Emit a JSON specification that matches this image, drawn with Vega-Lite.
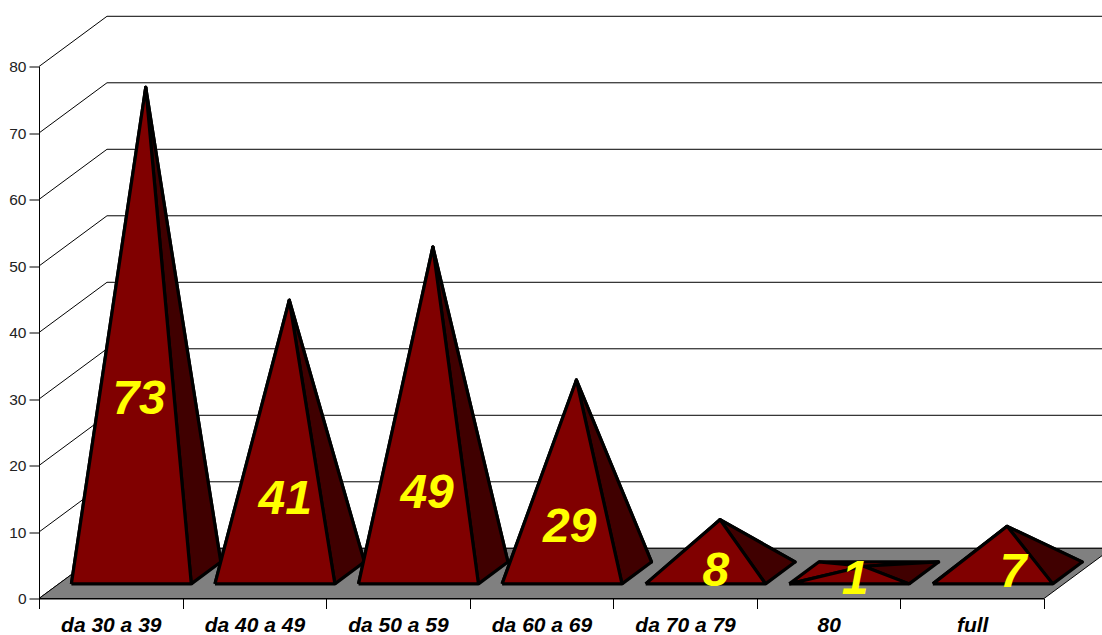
{
"$schema":"https://vega.github.io/schema/vega-lite/v6.json",
"width":1005,"height":532,
"autosize":{"type":"none"},
"padding":{"left":39,"top":66.5,"right":58,"bottom":36.5},
"background":"white",
"config":{"view":{"stroke":null},"font":"Liberation Sans"},
"datasets":{
"ages":[
{"category":"da 30 a 39","value":73},
{"category":"da 40 a 49","value":41},
{"category":"da 50 a 59","value":49},
{"category":"da 60 a 69","value":29},
{"category":"da 70 a 79","value":8},
{"category":"80","value":1},
{"category":"full","value":7}
],
"ticks":[{"tick":0},{"tick":10},{"tick":20},{"tick":30},{"tick":40},{"tick":50},{"tick":60},{"tick":70},{"tick":80}]
},
"layer":[
{"data":{"name":"ticks"},
 "transform":[{"calculate":"datum.tick+7.55","as":"back"}],
 "mark":{"type":"rule","stroke":"black","strokeWidth":1},
 "encoding":{
  "x":{"datum":0.4736,"type":"quantitative","scale":{"domain":[0,7],"nice":false,"zero":false},
   "axis":{"title":null,"grid":false,"values":[0,0.5,1,1.5,2,2.5,3,3.5,4,4.5,5,5.5,6,6.5,7],
    "labelExpr":"datum.value%1 ? ['da 30 a 39','da 40 a 49','da 50 a 59','da 60 a 69','da 70 a 79','80','full'][floor(datum.value)] : ''",
    "tickOpacity":{"condition":{"test":"datum.value%1","value":0},"value":1},
    "tickSize":10,"tickColor":"black","domainColor":"black","labelColor":"black","labelFont":"Liberation Sans","labelFontSize":21,"labelFontWeight":"bold","labelFontStyle":"italic","labelPadding":17,"labelOverlap":false,"labelFlush":false,"labelBaseline":"middle","labelAngle":0}},
  "x2":{"datum":7.4736},
  "y":{"field":"back","type":"quantitative","scale":{"domain":[0,80],"nice":false,"zero":false},
   "axis":{"title":null,"grid":false,"values":[0,10,20,30,40,50,60,70,80],"tickSize":10,"tickColor":"black","domainColor":"black","labelColor":"#222222","labelFont":"Liberation Sans","labelFontSize":15.5,"labelPadding":3}}
 }},
{"data":{"name":"ticks"},
 "transform":[{"calculate":"[{k:0,x:0,y:datum.tick},{k:1,x:0.4736,y:datum.tick+7.55}]","as":"seg"},{"flatten":["seg"]},{"calculate":"datum.seg.x","as":"sx"},{"calculate":"datum.seg.y","as":"sy"},{"calculate":"datum.seg.k","as":"sk"}],
 "mark":{"type":"line","stroke":"black","strokeWidth":1},
 "encoding":{"x":{"field":"sx","type":"quantitative"},"y":{"field":"sy","type":"quantitative"},"detail":{"field":"tick"},"order":{"field":"sk"}}
},
{"data":{"name":"ticks"},
 "transform":[{"filter":"datum.tick==0"},{"calculate":"[{k:0,x:0,y:0},{k:1,x:7,y:0},{k:2,x:7.4736,y:7.55},{k:3,x:0.4736,y:7.55},{k:4,x:0,y:0}]","as":"c"},{"flatten":["c"]},{"calculate":"datum.c.x","as":"cx"},{"calculate":"datum.c.y","as":"cy"},{"calculate":"datum.c.k","as":"ck"}],
 "mark":{"type":"line","stroke":"black","strokeWidth":1,"fill":"#808080"},
 "encoding":{"x":{"field":"cx","type":"quantitative"},"y":{"field":"cy","type":"quantitative"},"order":{"field":"ck"}}
},
{"data":{"name":"ages"},
 "transform":[
  {"window":[{"op":"row_number","as":"n"}]},
  {"calculate":"[{f:0,k:0,u:0.095,w:0.72,a:0},{f:0,k:1,u:0.93,w:0.72,a:0},{f:0,k:2,u:0.51,w:0.5,a:1},{f:0,k:3,u:0.095,w:0.72,a:0},{f:1,k:0,u:0.095,w:0.28,a:0},{f:1,k:1,u:0.095,w:0.72,a:0},{f:1,k:2,u:0.51,w:0.5,a:1},{f:1,k:3,u:0.095,w:0.28,a:0},{f:2,k:0,u:0.93,w:0.28,a:0},{f:2,k:1,u:0.93,w:0.72,a:0},{f:2,k:2,u:0.51,w:0.5,a:1},{f:2,k:3,u:0.93,w:0.28,a:0},{f:3,k:0,u:0.095,w:0.28,a:0},{f:3,k:1,u:0.93,w:0.28,a:0},{f:3,k:2,u:0.51,w:0.5,a:1},{f:3,k:3,u:0.095,w:0.28,a:0}]","as":"v"},
  {"flatten":["v"]},
  {"calculate":"datum.n-1+datum.v.u+datum.v.w*0.4667","as":"px"},
  {"calculate":"datum.v.a*datum.value+0.1+datum.v.w*7.5","as":"py"},
  {"calculate":"datum.v.k","as":"vk"},
  {"calculate":"datum.n*10+datum.v.f","as":"face"},
  {"calculate":"datum.v.f==2?'shade':'lit'","as":"tone"}
 ],
 "mark":{"type":"line","stroke":"black","strokeWidth":3.2,"strokeJoin":"round"},
 "encoding":{
  "x":{"field":"px","type":"quantitative"},
  "y":{"field":"py","type":"quantitative"},
  "detail":{"field":"face"},
  "order":{"field":"vk"},
  "fill":{"field":"tone","type":"nominal","scale":{"domain":["lit","shade"],"range":["#800000","#400000"]},"legend":null}
 }
},
{"data":{"name":"ages"},
 "transform":[
  {"calculate":"{'da 30 a 39':0.697,'da 40 a 49':1.715,'da 50 a 59':2.703,'da 60 a 69':3.697,'da 70 a 79':4.715,'80':5.684,'full':6.784}[datum.category]","as":"lx"},
  {"calculate":"{'da 30 a 39':29.9,'da 40 a 49':14.8,'da 50 a 59':15.7,'da 60 a 69':10.6,'da 70 a 79':4,'80':2.8,'full':3.86}[datum.category]","as":"ly"}
 ],
 "mark":{"type":"text","color":"#ffff00","font":"Liberation Sans","fontSize":48,"fontWeight":"bold","fontStyle":"italic","align":"center","baseline":"middle"},
 "encoding":{"x":{"field":"lx","type":"quantitative"},"y":{"field":"ly","type":"quantitative"},"text":{"field":"value","type":"quantitative"}}
}
]
}
